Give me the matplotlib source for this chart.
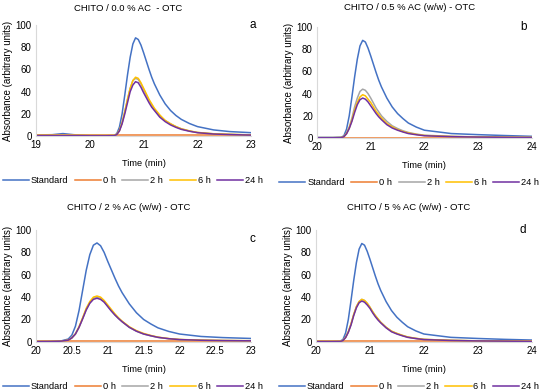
import matplotlib.pyplot as plt

plt.rcParams['font.family'] = ['Liberation Sans', 'DejaVu Sans']

# ---- data ----
series_names = ['Standard', '0 h', '2 h', '6 h', '24 h']
colors = ['#4472C4', '#ED7D31', '#A5A5A5', '#FFC000', '#7030A0']

# panel a : CHITO / 0.0 % AC - OTC
t_a = [19.0, 19.3, 19.5, 19.7, 20.0, 20.3, 20.45, 20.5, 20.55, 20.6, 20.65, 20.7, 20.75, 20.8,
       20.85, 20.9, 20.95, 21.0, 21.05, 21.1, 21.15, 21.2, 21.3, 21.4, 21.5, 21.6, 21.7, 21.85,
       22.0, 22.3, 22.6, 23.0]
std_a = [1.0, 1.2, 2.2, 1.2, 0.5, 0.4, 0.6, 2, 8, 20, 37, 55, 71, 83,
         88.5, 87, 82, 75, 67.5, 60, 53, 47, 37, 29, 23, 18.5, 15, 11.3,
         8.5, 5.5, 4, 3]
h0_a = [0.5] * len(t_a)
h2_a = [0.5, 0.5, 0.5, 0.5, 0.4, 0.4, 0.4, 1.5, 5, 12, 22, 33, 43, 50,
        52, 51, 47, 42, 37, 32, 28, 24, 18, 14, 11, 8.5, 6.5, 4.6,
        3.2, 2, 1.5, 1]
h6_a = [0.5, 0.5, 0.5, 0.5, 0.4, 0.4, 0.4, 1.5, 5, 12, 22, 33, 43, 50,
        53, 52, 48, 43, 38, 33, 29, 25, 19, 14, 11, 8.5, 6.5, 4.6,
        3.2, 2, 1.5, 1]
h24_a = [0.3, 0.3, 0.3, 0.3, 0.2, 0.2, 0.3, 1.3, 4.5, 11, 20, 30, 40, 46,
         49, 48, 44, 39, 34.5, 30, 26, 23, 17, 13, 10, 7.8, 6, 4.3,
         3, 1.8, 1.3, 0.8]

# panel b : CHITO / 0.5 % AC (w/w) - OTC
t_b = [20.0, 20.3, 20.45, 20.5, 20.55, 20.6, 20.65, 20.7, 20.75, 20.8, 20.85, 20.9, 20.95,
       21.0, 21.05, 21.1, 21.15, 21.2, 21.3, 21.4, 21.5, 21.6, 21.7, 21.85, 22.0, 22.5,
       23.0, 23.5, 24.0]
std_b = [0.5, 0.5, 0.7, 2, 8, 20, 37, 55, 71, 83, 88, 86.5, 81,
         74, 66.5, 59, 52, 46, 36, 28, 22, 17.5, 13.5, 9.8, 7, 4,
         3, 2.2, 1.5]
h0_b = [0.3] * len(t_b)
h2_b = [0.3, 0.3, 0.4, 1.3, 4.5, 10, 18, 28, 36, 42, 44, 43, 40,
        36, 31.5, 27, 23.5, 20, 15, 11, 8.5, 6.5, 5, 3.5, 2.5, 1.5,
        1, 0.8, 0.6]
h6_b = [0.3, 0.3, 0.4, 1.2, 4, 9, 16, 25, 32, 37, 39, 38, 35,
        32, 28, 24, 21, 18, 13, 10, 7.5, 5.8, 4.5, 3.2, 2.2, 1.3,
        0.9, 0.7, 0.5]
h24_b = [0.2, 0.2, 0.3, 1.1, 3.8, 8.5, 15, 23, 30, 34.5, 36, 35, 32.5,
         29, 25.5, 22, 19, 16.5, 12, 9, 7, 5.4, 4, 2.9, 2, 1.2,
         0.8, 0.6, 0.4]

# panel c : CHITO / 2 % AC (w/w) - OTC
t_c = [20.0, 20.2, 20.35, 20.45, 20.5, 20.55, 20.6, 20.65, 20.7, 20.75, 20.8, 20.85, 20.9,
       20.95, 21.0, 21.05, 21.1, 21.15, 21.2, 21.3, 21.4, 21.5, 21.6, 21.7, 21.85, 22.0,
       22.3, 22.6, 23.0]
std_c = [0.3, 0.4, 0.8, 2.5, 6, 14, 28, 46, 64, 78, 86.5, 88.5, 86,
         80, 72, 64.5, 57, 50, 44, 34, 26, 20, 16, 12.5, 9.3, 7,
         4.8, 3.8, 3]
h0_c = [1.0] * len(t_c)
h2_c = [0.2, 0.3, 0.6, 1.5, 3.5, 7, 13, 21, 29, 35, 39, 40, 39,
        36, 32, 28, 24, 21, 18, 13, 9.5, 7, 5.4, 4, 2.8, 2,
        1.4, 1.1, 0.9]
h6_c = [0.2, 0.3, 0.6, 1.5, 3.6, 7.2, 13.5, 21.5, 30, 36, 40, 41, 40,
        37, 33, 29, 25, 21.5, 18.5, 13.5, 10, 7.5, 5.7, 4.2, 2.9, 2.1,
        1.5, 1.2, 1]
h24_c = [0.2, 0.3, 0.6, 1.5, 3.5, 7, 13, 20.5, 28.5, 34.5, 38, 39, 38,
         35.5, 31.5, 27.5, 24, 20.8, 18, 13, 9.5, 7, 5.4, 4, 2.8, 2,
         1.4, 1.1, 0.9]

# panel d : CHITO / 5 % AC (w/w) - OTC
t_d = [20.0, 20.3, 20.45, 20.5, 20.55, 20.6, 20.65, 20.7, 20.75, 20.8, 20.85, 20.9, 20.95,
       21.0, 21.05, 21.1, 21.15, 21.2, 21.3, 21.4, 21.5, 21.6, 21.7, 21.85, 22.0, 22.5,
       23.0, 23.5, 24.0]
std_d = [0.5, 0.5, 0.7, 2, 8, 20, 37, 55, 71, 83, 88, 86.5, 81,
         74, 66.5, 59, 52, 46, 36, 28, 22, 17.5, 13.5, 9.8, 7, 4,
         3, 2.2, 1.6]
h0_d = [0.3] * len(t_d)
h2_d = [0.3, 0.3, 0.4, 1.2, 4, 9, 16, 24.5, 31.5, 36, 38, 37, 34.5,
        31, 27, 23.5, 20.5, 17.5, 13, 9.5, 7.5, 5.8, 4.3, 3.1, 2.2, 1.3,
        0.9, 0.7, 0.5]
h6_d = [0.3, 0.3, 0.4, 1.2, 4, 9, 16, 24.5, 31.5, 36, 38, 37, 34.5,
        31, 27, 23.5, 20.5, 17.5, 13, 9.5, 7.5, 5.8, 4.3, 3.1, 2.2, 1.3,
        0.9, 0.7, 0.5]
h24_d = [0.2, 0.2, 0.3, 1.1, 3.8, 8.5, 15, 23.5, 30.5, 35, 36.5, 35.5, 33,
         30, 26, 22.5, 19.5, 17, 12.5, 9, 7, 5.4, 4, 2.9, 2, 1.2,
         0.8, 0.6, 0.4]

titles = ['CHITO / 0.0 % AC  - OTC', 'CHITO / 0.5 % AC (w/w) - OTC',
          'CHITO / 2 % AC (w/w) - OTC', 'CHITO / 5 % AC (w/w) - OTC']
letters = ['a', 'b', 'c', 'd']

panels = [
    (t_a, [std_a, h0_a, h2_a, h6_a, h24_a], (19, 23), [19, 20, 21, 22, 23]),
    (t_b, [std_b, h0_b, h2_b, h6_b, h24_b], (20, 24), [20, 21, 22, 23, 24]),
    (t_c, [std_c, h0_c, h2_c, h6_c, h24_c], (20, 23), [20, 20.5, 21, 21.5, 22, 22.5, 23]),
    (t_d, [std_d, h0_d, h2_d, h6_d, h24_d], (20, 24), [20, 21, 22, 23, 24]),
]

# axes boxes in figure fraction [left, bottom, width, height]
boxes = [
    [0.0665, 0.653, 0.398, 0.283],
    [0.586, 0.648, 0.397, 0.283],
    [0.0665, 0.128, 0.398, 0.285],
    [0.584, 0.128, 0.399, 0.285],
]
legend_x = [0.45, 0.43, 0.45, 0.43]
title_pad = [10.5, 12.5, 14.5, 14.5]
letter_pos = [(1.02, 1.0), (0.975, 1.0), (1.02, 0.92), (0.975, 1.0)]

fig = plt.figure(figsize=(5.41, 3.92), dpi=100)

for i, (t, ys, xlim, xticks) in enumerate(panels):
    ax = fig.add_axes(boxes[i])
    lines = []
    for name, y, c in zip(series_names, ys, colors):
        ln, = ax.plot(t, y, color=c, lw=1.1, label=name)
        lines.append(ln)
    ax.set_xlim(*xlim)
    ax.set_ylim(0, 100)
    ax.set_xticks(xticks)
    ax.set_xticklabels([('%g' % v) for v in xticks])
    ax.set_yticks([0, 20, 40, 60, 80, 100])
    ax.tick_params(length=0, labelsize=7, pad=3)
    for s in ['top', 'right']:
        ax.spines[s].set_visible(False)
    for s in ['left', 'bottom']:
        ax.spines[s].set_color('#D9D9D9')
        ax.spines[s].set_linewidth(0.8)
    ax.set_xlabel('Time (min)', fontsize=6.7, labelpad=6.5)
    ax.set_ylabel('Absorbance (arbitrary units)', fontsize=7, labelpad=2)
    ax.set_title(titles[i], fontsize=6.8, x=0.43, pad=title_pad[i])
    lx, ly = letter_pos[i]
    ax.text(lx, ly, letters[i], transform=ax.transAxes, ha='right', va='center', fontsize=8.5)
    ax.legend(lines, series_names, loc='center', bbox_to_anchor=(legend_x[i], -0.40), ncol=5,
              frameon=False, fontsize=6.7, handlelength=2.8, handletextpad=0.2,
              columnspacing=0.7, borderaxespad=0, borderpad=0)

fig.savefig('out.png', dpi=100)
